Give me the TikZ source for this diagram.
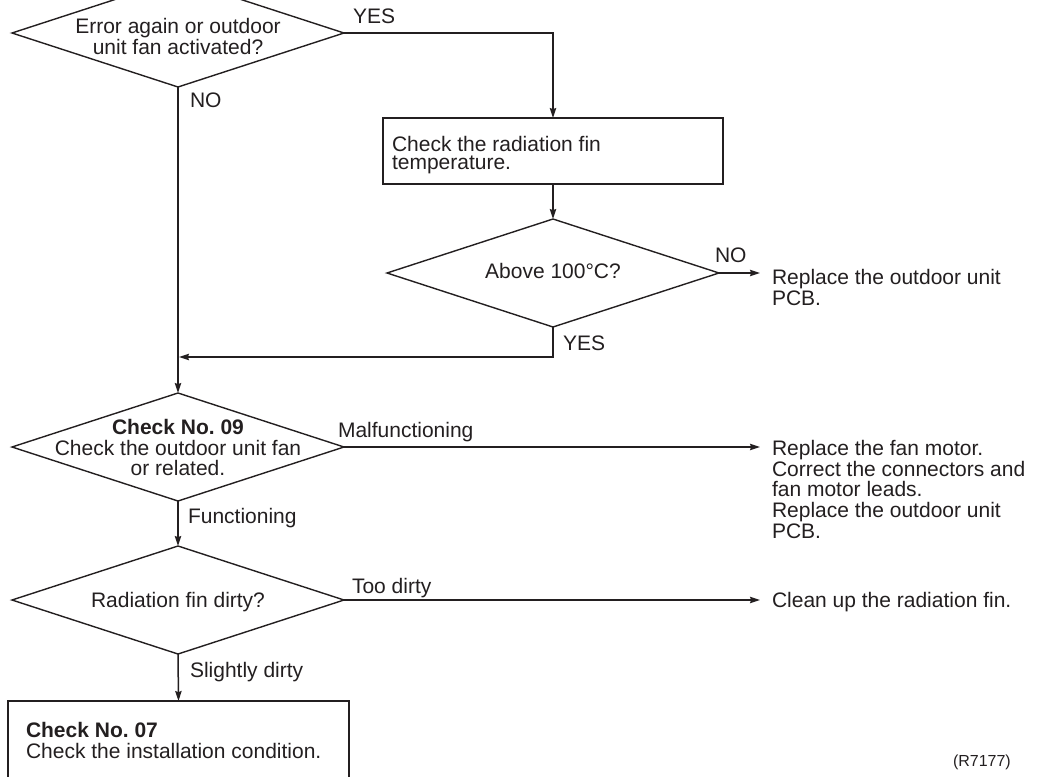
\documentclass[tikz,border=0pt]{standalone}
\usepackage{fontspec}
\setmainfont{Liberation Sans}
\usetikzlibrary{shapes.geometric,arrows.meta,calc}
\definecolor{ink}{HTML}{231F20}
\frenchspacing
\begin{document}
\begin{tikzpicture}[x=0.5pt,y=-0.5pt,
  every node/.style={inner sep=0pt,outer sep=0pt,font=\fontsize{10.5}{10.4}\selectfont,text=ink},
  line/.style={draw=ink,line width=0.75pt},
  arr/.style={line,-{Stealth[length=5pt,width=3.2pt,inset=0.6pt]}},
  dia/.style={diamond,draw=ink,line width=0.7pt,minimum width=166pt,minimum height=54pt},
  box/.style={rectangle,draw=ink,line width=0.75pt},
  lbl/.style={anchor=base west},
  txt/.style={align=left,anchor=north west},
  ctxt/.style={align=center,anchor=north},
]
\useasboundingbox (0,0) rectangle (1042,776);
\clip (0,0) rectangle (1042,776);

% decisions
\node[dia] (d1) at (178,33) {};
\node[ctxt] (d1t) at (178,18) {Error again or outdoor\\unit fan activated?};
\node[dia] (d2) at (553,273) {};
\node[anchor=base] (d2t) at (553,278) {Above 100°C?};
\node[dia] (d3) at (178,447) {};
\node[ctxt] (d3t) at (178,419) {\textbf{Check No. 09}\\Check the outdoor unit fan\\or related.};
\node[dia] (d4) at (178,600) {};
\node[anchor=base] (d4t) at (178,607) {Radiation fin dirty?};

% boxes
\node[box,minimum width=170pt,minimum height=33pt] (b1) at (553,151) {};
\node[txt,font=\fontsize{10.5}{9.2}\selectfont] (b1t) at (392,136) {Check the radiation fin\\temperature.};
\node[box,minimum width=170.5pt,minimum height=44.5pt] (b2) at (178.5,745.5) {};
\node[txt] (b2t) at (26,722) {\textbf{Check No. 07}\\Check the installation condition.};

% results
\node[txt] (r1) at (772,269) {Replace the outdoor unit\\PCB.};
\node[txt] (r2) at (772,440) {Replace the fan motor.\\Correct the connectors and\\fan motor leads.\\Replace the outdoor unit\\PCB.};
\node[anchor=base west] (r3) at (772,607) {Clean up the radiation fin.};

% labels
\node[lbl] (l1) at (353,23) {YES};
\node[lbl] (l2) at (190,107) {NO};
\node[lbl] (l3) at (715,262) {NO};
\node[lbl] (l4) at (563,350) {YES};
\node[lbl] (l5) at (338,437) {Malfunctioning};
\node[lbl] (l6) at (188,523) {Functioning};
\node[lbl] (l7) at (352,593) {Too dirty};
\node[lbl] (l8) at (190,677) {Slightly dirty};
\node[lbl,font=\fontsize{8}{9}\selectfont] (ref) at (953,766) {(R7177)};

% connectors
\coordinate (j1) at (179,357);
\draw[arr] (d1.east) -| (b1.north);
\draw[arr] (d1.south) -- (d3.north);
\draw[arr] (b1.south) -- (d2.north);
\draw[arr,shorten >=6pt] (d2.east) -- (d2.east -| r1.west);
\draw[arr] (d2.south) |- (j1);
\draw[arr,shorten >=6pt] (d3.east) -- (d3.east -| r2.west);
\draw[arr] (d3.south) -- (d4.north);
\draw[arr,shorten >=6pt] (d4.east) -- (d4.east -| r3.west);
\draw[arr] (d4.south) -- (b2.north);
\end{tikzpicture}
\end{document}
